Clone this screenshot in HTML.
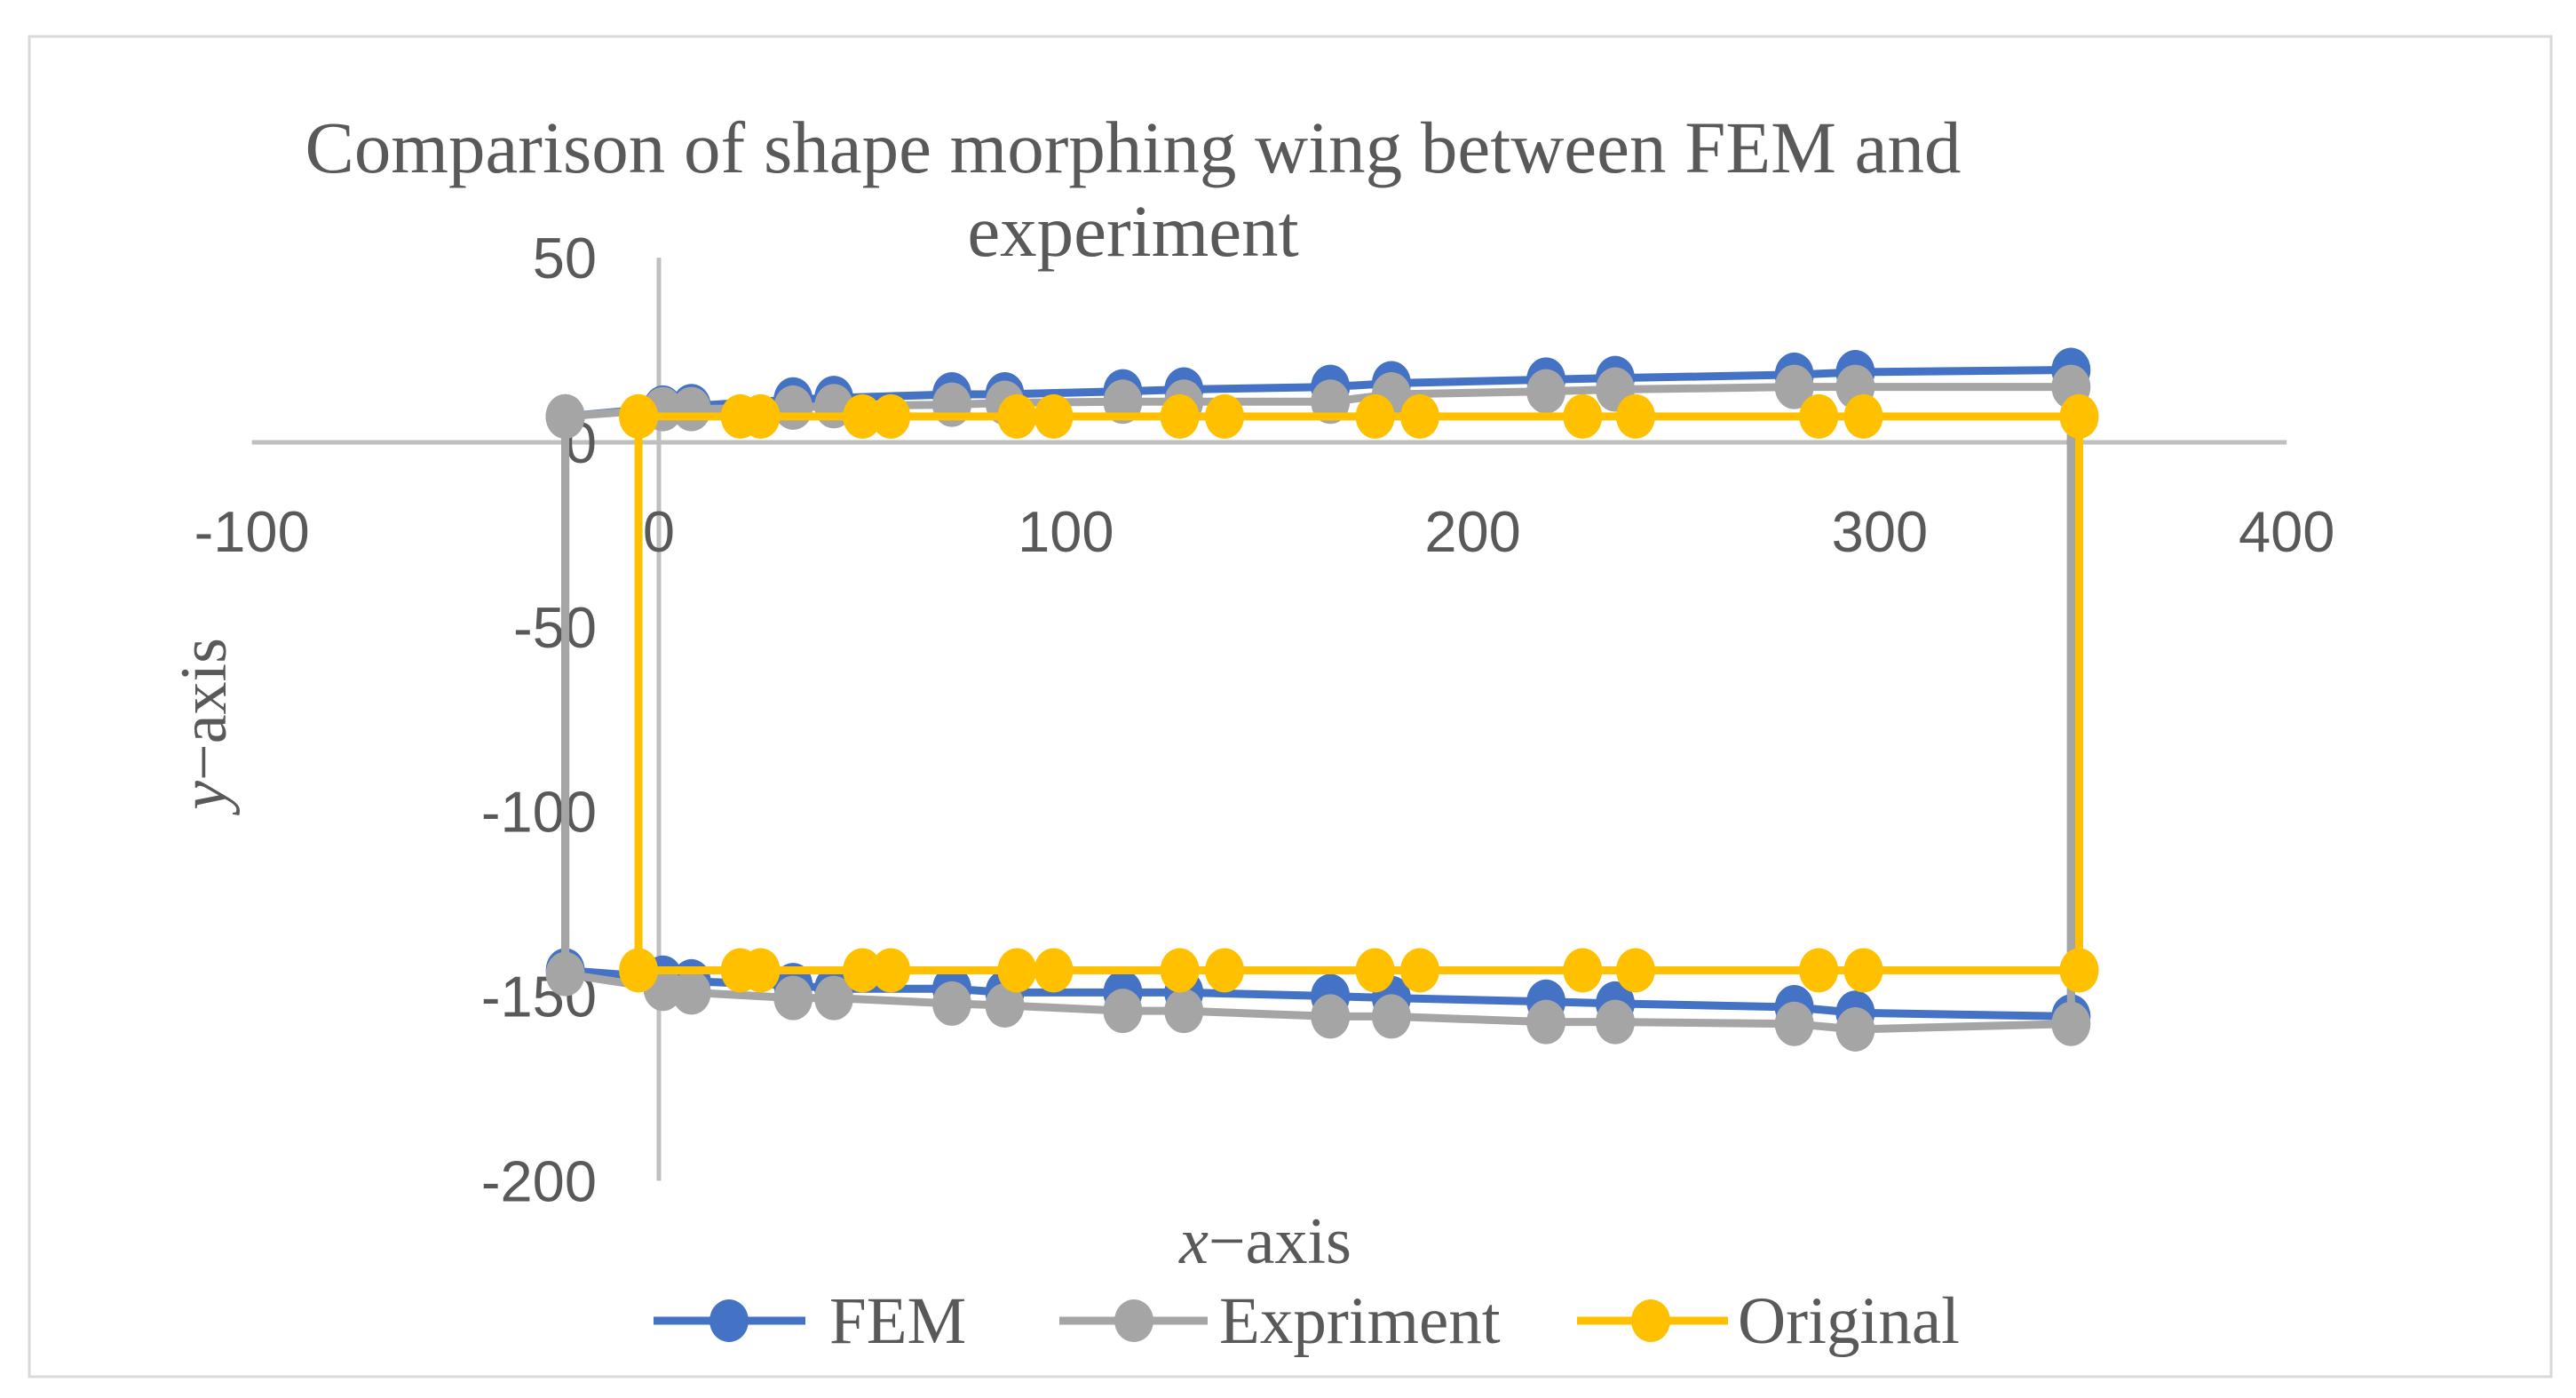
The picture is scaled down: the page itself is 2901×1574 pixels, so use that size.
<!DOCTYPE html>
<html><head><meta charset="utf-8"><style>
html,body{margin:0;padding:0;background:#fff;width:2901px;height:1574px;overflow:hidden}
svg text{font-family:"Liberation Serif",serif;fill:#595959}
.tick{font-family:"Liberation Sans",sans-serif;font-size:65px}
</style></head><body>
<svg id="chart" width="2901" height="1574" xmlns="http://www.w3.org/2000/svg">
<rect x="33" y="41" width="2840" height="1509" fill="#fff" stroke="#d9d9d9" stroke-width="3"/>
<text x="1276" y="194" font-size="83" text-anchor="middle">Comparison of shape morphing wing between FEM and</text>
<text x="1276" y="288" font-size="83" text-anchor="middle">experiment</text>
<g id="axes"></g>
<g id="series"></g>
<text transform="translate(254,815) rotate(-90)" font-size="74" text-anchor="middle"><tspan font-style="italic">y</tspan>−axis</text>
<text x="1425" y="1422" font-size="74" text-anchor="middle"><tspan font-style="italic">x</tspan>−axis</text>
<g>
<g><line x1="736" y1="1487" x2="907" y2="1487" stroke="#4472c4" stroke-width="9"/><ellipse cx="821" cy="1487" rx="22" ry="24" fill="#4472c4"/><text x="934" y="1512" font-size="75">FEM</text></g>
<g><line x1="1193" y1="1487" x2="1360" y2="1487" stroke="#a5a5a5" stroke-width="9"/><ellipse cx="1277" cy="1487" rx="22" ry="24" fill="#a5a5a5"/><text x="1373" y="1512" font-size="75">Expriment</text></g>
<g><line x1="1776" y1="1487" x2="1946" y2="1487" stroke="#ffc000" stroke-width="9"/><ellipse cx="1859" cy="1487" rx="22" ry="24" fill="#ffc000"/><text x="1957" y="1512" font-size="75">Original</text></g>
</g>
</svg>
<script>
const xTicks=[-100,0,100,200,300,400];
const yTicks=[50,0,-50,-100,-150,-200];
const femX=[-23,1,8,33,43,72,85,114,129,165,180,218,235,279,294,347,347,294,279,235,218,180,165,129,114,85,72,43,33,8,1,-23,-23];
const femY=[7,9.4,9.8,11.6,12,13,13,13.8,14.3,15,16,17,17.4,18.3,19,19.6,-155.5,-154.5,-153,-152,-151.5,-150.5,-150,-149,-149,-149,-148,-148,-147,-146,-145,-143,7];
const expX=[-23,1,8,33,43,72,85,114,129,165,180,218,235,279,294,347,347,294,279,235,218,180,165,129,114,85,72,43,33,8,1,-23,-23];
const expY=[7,9,9,9.4,9.8,10.2,10.7,11,11,11,13,13.8,14.3,15,15,15,-157.5,-159,-157.5,-157,-157,-155.5,-155.5,-154,-154,-152.5,-152,-150.5,-150.5,-149,-148,-144,7];
const origX=[-5,20,25,50,57,88,97,128,139,176,187,227,240,285,296,349,349,296,285,240,227,187,176,139,128,97,88,57,50,25,20,-5,-5];
const origY=[7,7,7,7,7,7,7,7,7,7,7,7,7,7,7,7,-143,-143,-143,-143,-143,-143,-143,-143,-143,-143,-143,-143,-143,-143,-143,-143,7];
const NS='http://www.w3.org/2000/svg';
const sx=v=>742+(v)*4.583;
const sy=v=>498-(v)*4.157;
const axes=document.getElementById('axes');
function mk(tag,attrs,parent){const e=document.createElementNS(NS,tag);for(const k in attrs)e.setAttribute(k,attrs[k]);parent.appendChild(e);return e;}
const xl=mk('line',{x1:sx(-100),x2:sx(400),y1:sy(0),y2:sy(0),stroke:'#bfbfbf','stroke-width':5},axes);


const yl=mk('line',{x1:sx(0),x2:sx(0),y1:sy(50),y2:sy(-200),stroke:'#bfbfbf','stroke-width':5},axes);


xTicks.forEach(t=>{const e=mk('text',{x:sx(t),y:621,'text-anchor':'middle',class:'tick'},axes);e.textContent=t;

});
yTicks.forEach(t=>{const e=mk('text',{x:672,y:sy(t)+23,'text-anchor':'end',class:'tick'},axes);e.textContent=t;

});
const ser=document.getElementById('series');
function draw(X,Y,color,name){
 const g=mk('g',{},ser);
 
 
 const pts=X.map((x,i)=>sx(x)+','+sy(Y[i])).join(' ');
 const pl=mk('polyline',{points:pts,fill:'none',stroke:color,'stroke-width':9,'stroke-linejoin':'round'},g);
 
 
 X.forEach((x,i)=>{const c=mk('ellipse',{cx:sx(x),cy:sy(Y[i]),rx:22,ry:25,fill:color},g);
 
 });
}
draw(femX,femY,'#4472c4','fem');
draw(expX,expY,'#a5a5a5','experiment');
draw(origX,origY,'#ffc000','original');
</script>
</body></html>
